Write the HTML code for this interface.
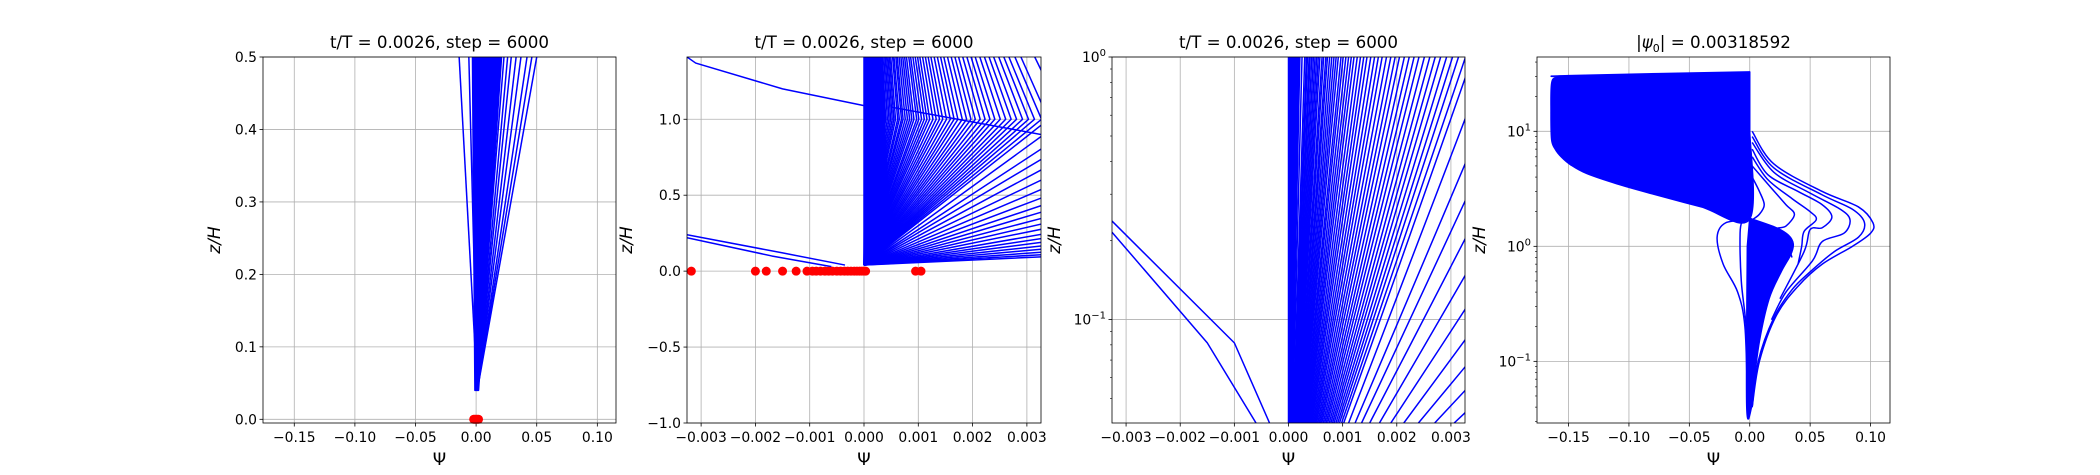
<!DOCTYPE html>
<html><head><meta charset="utf-8">
<style>
html,body{margin:0;padding:0;background:#fff;}
svg{display:block;font-family:"DejaVu Sans","Liberation Sans",sans-serif;}
</style></head>
<body>
<svg id="fig" width="2100" height="475" viewBox="0 0 2100 475" xmlns="http://www.w3.org/2000/svg"></svg>
<script>
// ---------- data ----------
const p1TickX = [-0.15,-0.10,-0.05,0.00,0.05,0.10];
const p1TickXLabels = ["\u22120.15","\u22120.10","\u22120.05","0.00","0.05","0.10"];
const p1TickY = [0.0,0.1,0.2,0.3,0.4,0.5];
const p1TickYLabels = ["0.0","0.1","0.2","0.3","0.4","0.5"];
const p1LineTops = [-0.014,-0.006,0.023,0.026,0.029,0.033,0.037,0.042,0.046,0.050];
const p1WedgeX = [-0.001,0.002,0.021,-0.003];
const p1WedgeY = [0.04,0.04,0.5,0.5];
const p1Dots = [-0.002,-0.001,0.0,0.001,0.002];

const p2TickX = [-0.003,-0.002,-0.001,0.0,0.001,0.002,0.003];
const p2TickXLabels = ["\u22120.003","\u22120.002","\u22120.001","0.000","0.001","0.002","0.003"];
const p2TickY = [-1.0,-0.5,0.0,0.5,1.0];
const p2TickYLabels = ["\u22121.0","\u22120.5","0.0","0.5","1.0"];
const fanApex = [0.00002,0.00004,0.00006,0.00008,0.0001,0.00012,0.00015,0.00018,0.00021,0.00025,0.0003,0.00033,0.00035,0.00038,0.0004,0.00043,0.00046,0.00049,0.00052,0.00055,0.00058,0.00062,0.00065,0.00069,0.00072,0.00076,0.0008,0.00084,0.00088,0.00092,0.00097,0.00101,0.00106,0.00111,0.00116,0.00121,0.00127,0.00133,0.00139,0.00145,0.00152,0.00159,0.00166,0.00173,0.00181,0.00189,0.00197,0.00205,0.00214,0.00223,0.00232,0.00241,0.00251,0.00261,0.00271,0.00281,0.00292,0.00303,0.00314,0.00327,0.0034,0.0037,0.0041,0.0045,0.005,0.0056,0.0063,0.0071,0.008,0.009,0.0102,0.0116,0.0133,0.0155,0.018,0.021,0.025,0.03,0.037,0.046,0.058];
const p2Dots = [-0.00318,-0.002,-0.0018,-0.0015,-0.00125,-0.00105,-0.00095,-0.00088,-0.0008,-0.00072,-0.00065,-0.00058,-0.0005,-0.00043,-0.00036,-0.0003,-0.00024,-0.00018,-0.00013,-0.00008,-0.00004,0.0,0.00003,0.00095,0.00105];
const p2Extra = [
  [[-0.00326,1.41],[-0.0031,1.37],[-0.0015,1.2],[0.0,1.09]],
  [[0.0005,1.08],[0.00326,0.9]],
  [[-0.00326,0.24],[-0.0015,0.12],[-0.00035,0.04]],
  [[-0.00326,0.22],[-0.0017,0.1],[-0.0006,0.03]]
];

const p3TickX = p2TickX;
const p3Left = [
  [[-0.00326,0.237],[-0.001,0.0814],[-0.00035,0.0403]],
  [[-0.00326,0.215],[-0.0015,0.0814],[-0.0006,0.0403]]
];

const p4TickX = [-0.15,-0.10,-0.05,0.00,0.05,0.10];
const p4TickXLabels = ["\u22120.15","\u22120.10","\u22120.05","0.00","0.05","0.10"];
const p4UpperBlob = [[0.0,32.9],[-0.15,30.5],[-0.16,29.5],[-0.164,26],[-0.1645,15],[-0.164,8.5],[-0.161,7],[-0.156,6],[-0.148,5.1],[-0.135,4.3],[-0.11,3.5],[-0.08,2.85],[-0.04,2.2],[0.0,1.73],[0.0,10]];
const p4LowerBlob = [[0.0,1.75],[0.022,1.45],[0.032,1.25],[0.036,1.05],[0.034,0.85],[0.026,0.6],[0.016,0.35],[0.008,0.15],[0.003,0.06],[0.0016,0.0406],[-0.0025,0.0406],[-0.002,1.0]];
const p4Curves = [
  [[0.002,10],[0.02,5.2],[0.06,3.0],[0.09,2.2],[0.102,1.6],[0.1,1.3],[0.085,1.0],[0.06,0.7],[0.04,0.45],[0.022,0.25],[0.008,0.1],[0.002,0.04]],
  [[0.002,9],[0.02,4.8],[0.06,2.8],[0.085,2.1],[0.095,1.6],[0.09,1.2],[0.07,0.9],[0.05,0.6],[0.035,0.42],[0.02,0.24],[0.007,0.1],[0.002,0.04]],
  [[0.002,8],[0.02,4.4],[0.05,2.9],[0.075,2.1],[0.083,1.7],[0.078,1.3],[0.06,1.1],[0.052,0.75],[0.03,0.4],[0.018,0.23]],
  [[0.002,7],[0.015,4.2],[0.04,3.0],[0.06,2.3],[0.068,1.8],[0.06,1.45],[0.05,1.4],[0.045,0.9],[0.025,0.35]],
  [[0.002,6],[0.015,3.8],[0.035,2.6],[0.05,2.0],[0.055,1.7],[0.045,1.35],[0.043,1.0],[0.04,0.7]],
  [[0.002,5],[0.018,3.2],[0.03,2.3],[0.037,1.9],[0.03,1.5],[0.022,1.4],[0.03,1.1],[0.035,0.8]],
  [[0.002,4],[0.008,3.0],[0.012,2.3],[0.008,1.9],[0.002,1.7]],
  [[0.0,1.7],[-0.02,1.6],[-0.027,1.2],[-0.022,0.7],[-0.01,0.4],[-0.004,0.2],[-0.002,0.05]],
  [[-0.006,1.7],[-0.008,1.3],[-0.007,0.5],[-0.003,0.2],[-0.001,0.06]]
];

// ---------- helpers ----------
const NS = "http://www.w3.org/2000/svg";
const svg = document.getElementById("fig");
function mk(tag, attrs, parent){ const e=document.createElementNS(NS,tag); for(const k in attrs) e.setAttribute(k,attrs[k]); (parent||svg).appendChild(e); return e; }
function linear(d0,d1,r0,r1){ return v => r0+(v-d0)*(r1-r0)/(d1-d0); }
function logScale(d0,d1,r0,r1){ const l0=Math.log10(d0), l1=Math.log10(d1); return v => r0+(Math.log10(v)-l0)*(r1-r0)/(l1-l0); }

function makeAxes(id, L, R, T, B, sx, sy){
  const g = mk("g",{});
  
  
  const cp = mk("clipPath",{id:"clip-"+id}, g);
  mk("rect",{x:L,y:T,width:R-L,height:B-T}, cp);
  const grid = mk("g",{}, g);
  
  
  const plot = mk("g",{"clip-path":"url(#clip-"+id+")"}, g);
  
  
  return {g,grid,plot,L,R,T,B,sx,sy};
}
function xTicks(ax, vals, labels){
  vals.forEach((v,i)=>{
    const x=ax.sx(v);
    mk("line",{x1:x,x2:x,y1:ax.T,y2:ax.B,stroke:"#b0b0b0","stroke-width":0.8},ax.grid);
    mk("line",{x1:x,x2:x,y1:ax.B,y2:ax.B+3.5,stroke:"#000","stroke-width":0.8},ax.g);
    const t=mk("text",{x:x,y:ax.B+19,"font-size":13.9,"text-anchor":"middle",fill:"#000"},ax.g);
    t.textContent=labels[i];
    
    
  });
}
function yTicks(ax, vals, labels){
  vals.forEach((v,i)=>{
    const y=ax.sy(v);
    mk("line",{x1:ax.L,x2:ax.R,y1:y,y2:y,stroke:"#b0b0b0","stroke-width":0.8},ax.grid);
    mk("line",{x1:ax.L-3.5,x2:ax.L,y1:y,y2:y,stroke:"#000","stroke-width":0.8},ax.g);
    const t=mk("text",{x:ax.L-6,y:y+5,"font-size":13.9,"text-anchor":"end",fill:"#000"},ax.g);
    t.textContent=labels[i];
    
    
  });
}
function yLogTicks(ax, exps, minorFrom, minorTo){
  exps.forEach(e=>{
    const y=ax.sy(Math.pow(10,e));
    mk("line",{x1:ax.L,x2:ax.R,y1:y,y2:y,stroke:"#b0b0b0","stroke-width":0.8},ax.grid);
    mk("line",{x1:ax.L-3.5,x2:ax.L,y1:y,y2:y,stroke:"#000","stroke-width":0.8},ax.g);
    const t=mk("text",{x:ax.L-6,y:y+5,"font-size":13.9,"text-anchor":"end",fill:"#000"},ax.g);
    
    
    const a=mk("tspan",{},t); a.textContent="10";
    const b=mk("tspan",{dy:-6,"font-size":10},t); b.textContent=(e<0?"\u2212":"")+Math.abs(e);
  });
  for(let e=minorFrom;e<=minorTo;e++){
    for(let m=2;m<=9;m++){
      const v=m*Math.pow(10,e); const y=ax.sy(v);
      if(y<ax.T-0.5||y>ax.B+0.5) continue;
      mk("line",{x1:ax.L-2,x2:ax.L,y1:y,y2:y,stroke:"#000","stroke-width":0.6},ax.g);
    }
  }
}
function frame(ax, title, titleIsHtml, ylabX){
  mk("rect",{x:ax.L,y:ax.T,width:ax.R-ax.L,height:ax.B-ax.T,fill:"none",stroke:"#000","stroke-width":0.8},ax.g);
  const t=mk("text",{x:(ax.L+ax.R)/2,y:ax.T-9,"font-size":16.7,"text-anchor":"middle",fill:"#000"},ax.g);
  
  
  if(titleIsHtml){
    const a=mk("tspan",{},t); a.textContent="|";
    const b=mk("tspan",{"font-style":"italic"},t); b.textContent="\u03c8";
    const c=mk("tspan",{"font-size":11,dy:4},t); c.textContent="0";
    const d=mk("tspan",{dy:-4},t); d.textContent="| = 0.00318592";
  } else t.textContent=title;
  const xl=mk("text",{x:(ax.L+ax.R)/2,y:ax.B+42,"font-size":17,"text-anchor":"middle",fill:"#000"},ax.g);
  xl.textContent="\u03a8";
  
  
  const cy=(ax.T+ax.B)/2;
  const yl=mk("text",{x:ylabX,y:cy,"font-size":17,"text-anchor":"middle","font-style":"italic",fill:"#000",transform:"rotate(-90 "+ylabX+" "+cy+")"},ax.g);
  yl.textContent="z/H";
  
  
}
function poly(ax, pts, name, fill, smooth){
  const P=pts.map(p=>[ax.sx(p[0]),ax.sy(p[1])]);
  let d="M"+P[0][0].toFixed(2)+","+P[0][1].toFixed(2);
  for(let i=1;i<P.length;i++){
    if(smooth){
      const p0=P[Math.max(0,i-2)], p1=P[i-1], p2=P[i], p3=P[Math.min(P.length-1,i+1)];
      const c1=[p1[0]+(p2[0]-p0[0])/6, p1[1]+(p2[1]-p0[1])/6];
      const c2=[p2[0]-(p3[0]-p1[0])/6, p2[1]-(p3[1]-p1[1])/6];
      d+="C"+c1[0].toFixed(2)+","+c1[1].toFixed(2)+" "+c2[0].toFixed(2)+","+c2[1].toFixed(2)+" "+p2[0].toFixed(2)+","+p2[1].toFixed(2);
    } else d+="L"+P[i][0].toFixed(2)+","+P[i][1].toFixed(2);
  }
  if(fill) d+="Z";
  const p=mk("path",{d:d,fill:fill?"#0000ff":"none",stroke:"#0000ff","stroke-width":1.5,"stroke-linejoin":"round"},ax.plot);
  
  
  return p;
}
function dot(ax, x, y){
  const c=mk("circle",{cx:ax.sx(x),cy:ax.sy(y),r:4.5,fill:"#ff0000"},ax.g);
  
  
}
const TITLE="t/T = 0.0026, step = 6000";

// ---------- panel 1 ----------
const a1=makeAxes("panel-1",263,616,57,423,linear(-0.1758,0.1154,263,616),linear(-0.0051,0.5,423,57));
xTicks(a1,p1TickX,p1TickXLabels); yTicks(a1,p1TickY,p1TickYLabels);
poly(a1,p1WedgeX.map((x,i)=>[x,p1WedgeY[i]]),"dense-wedge",true);
p1LineTops.forEach(x=>poly(a1,[[0.001,0.04],[x,0.5]],"profile-line",false));
p1Dots.forEach(x=>dot(a1,x,0));
frame(a1,TITLE,false,220);

// ---------- panel 2 ----------
const a2=makeAxes("panel-2",687,1041,57,423,linear(-0.00326,0.00326,687,1041),linear(-1.0,1.41,423,57));
xTicks(a2,p2TickX,p2TickXLabels); yTicks(a2,p2TickY,p2TickYLabels);
fanApex.forEach(a=>poly(a2,[[0,0.04],[a,1.0],[a*0.85,1.41]],"profile-line",false));
poly(a2,[[0,0.04],[0.00004,0.04],[0.00045,0.5],[0.0003,1.41],[0,1.41]],"dense-core",true);
p2Extra.forEach(l=>poly(a2,l,"profile-line",false));
p2Dots.forEach(x=>dot(a2,x,0));
frame(a2,TITLE,false,632);

// ---------- panel 3 ----------
const a3=makeAxes("panel-3",1112,1465,57,423,linear(-0.00326,0.00326,1112,1465),logScale(0.0403,1.0,423,57));
xTicks(a3,p3TickX,p2TickXLabels); yLogTicks(a3,[-1,0],-2,-1);
fanApex.forEach(a=>poly(a3,[[a*0.3,0.0403],[a*0.45,0.08],[a,1.0]],"profile-line",false));
poly(a3,[[0,0.0403],[0.00003,0.0403],[0.00012,0.2],[0.0002,1.0],[0,1.0]],"dense-core",true);
p3Left.forEach(l=>poly(a3,l,"profile-line",false));
frame(a3,TITLE,false,1060);

// ---------- panel 4 ----------
const a4=makeAxes("panel-4",1537,1890,57,423,linear(-0.1761,0.1161,1537,1890),logScale(Math.pow(10,-1.536),Math.pow(10,1.646),423,57));
xTicks(a4,p4TickX,p4TickXLabels); yLogTicks(a4,[-1,0,1],-2,1);
poly(a4,p4UpperBlob,"upper-dense-region",true,true);
poly(a4,p4LowerBlob,"lower-dense-region",true,true);
p4Curves.forEach(c=>poly(a4,c,"profile-curve",false,true));
frame(a4,"",true,1485);
</script>
</body></html>
